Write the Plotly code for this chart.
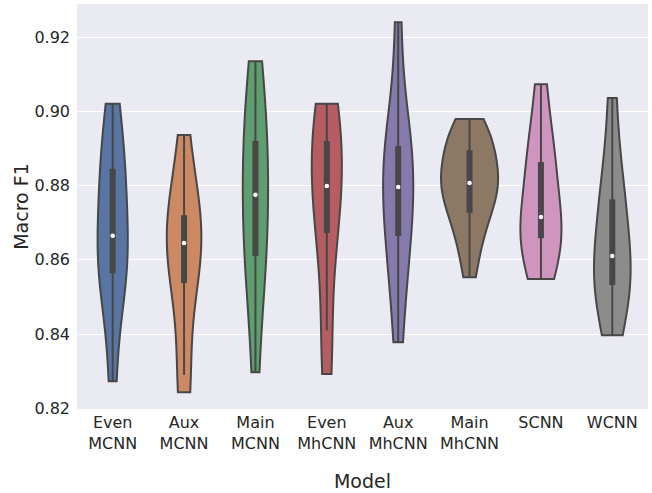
import numpy as np
import colorsys
import plotly.graph_objects as go

# ---- data ----
models = ["Even<br>MCNN", "Aux<br>MCNN", "Main<br>MCNN", "Even<br>MhCNN",
          "Aux<br>MhCNN", "Main<br>MhCNN", "SCNN", "WCNN"]

even_mcnn = [0.8273, 0.852, 0.856, 0.8575, 0.864, 0.869, 0.880, 0.886, 0.889, 0.902]
aux_mcnn = [0.8243, 0.829, 0.8535, 0.8545, 0.863, 0.866, 0.869, 0.873, 0.8775, 0.8936]
main_mcnn = [0.8297, 0.852, 0.860, 0.864, 0.875, 0.880, 0.890, 0.8927, 0.903, 0.9135]
even_mhcnn = [0.8292, 0.841, 0.867, 0.8678, 0.878, 0.8818, 0.889, 0.893, 0.899, 0.902]
aux_mhcnn = [0.8378, 0.855, 0.866, 0.8676, 0.876, 0.8832, 0.888, 0.8915, 0.893, 0.924]
main_mhcnn = [0.8553, 0.861, 0.866, 0.869, 0.8715, 0.8730, 0.876, 0.878, 0.8795, 0.8802,
              0.8812, 0.8825, 0.884, 0.886, 0.889, 0.891, 0.892, 0.8935, 0.895, 0.8979]
scnn = [0.8548, 0.860, 0.8652, 0.8676, 0.869, 0.874, 0.884, 0.8871, 0.893, 0.9073]
wcnn = [0.8397, 0.849, 0.853, 0.8538, 0.859, 0.863, 0.872, 0.8777, 0.884, 0.9036]

series = [even_mcnn, aux_mcnn, main_mcnn, even_mhcnn, aux_mhcnn, main_mhcnn, scnn, wcnn]

y_ticks = [0.82, 0.84, 0.86, 0.88, 0.90, 0.92]

# ---- styles ----
deep = ["#4C72B0", "#DD8452", "#55A868", "#C44E52", "#8172B3", "#937860", "#DA8BC3", "#8C8C8C"]
GRAY = "#474747"


def desaturate(hexc, prop=0.75):
    r, g, b = (int(hexc[i:i + 2], 16) / 255 for i in (1, 3, 5))
    h, l, s = colorsys.rgb_to_hls(r, g, b)
    r, g, b = colorsys.hls_to_rgb(h, l, s * prop)
    return "#%02x%02x%02x" % (round(r * 255), round(g * 255), round(b * 255))


colors = [desaturate(c) for c in deep]

# KDE (scott bandwidth, like seaborn) to scale widths by area
bws, peaks = [], []
for vals in series:
    v = np.asarray(vals)
    n = len(v)
    bw = v.std(ddof=1) * n ** (-0.2)
    grid = np.linspace(v.min(), v.max(), 400)
    dens = np.exp(-0.5 * ((grid[:, None] - v[None, :]) / bw) ** 2).sum(1) / (n * bw * np.sqrt(2 * np.pi))
    bws.append(bw)
    peaks.append(dens.max())
peaks = np.array(peaks)
widths = 0.8 * peaks / peaks.max()

fig = go.Figure()
for i, vals in enumerate(series):
    v = np.asarray(vals)
    fig.add_trace(go.Violin(
        x=[i] * len(v), y=v, width=widths[i], scalemode="width",
        spanmode="hard", bandwidth=bws[i], points=False,
        fillcolor=colors[i], opacity=1, line=dict(color=GRAY, width=2),
        box_visible=False, meanline_visible=False, hoverinfo="skip",
        name=models[i].replace("<br>", " ")))
    q1, med, q3 = np.percentile(v, [25, 50, 75])
    iqr = q3 - q1
    lo = v[v >= q1 - 1.5 * iqr].min()
    hi = v[v <= q3 + 1.5 * iqr].max()
    fig.add_trace(go.Scatter(x=[i, i], y=[lo, hi], mode="lines",
                             line=dict(color=GRAY, width=2), hoverinfo="skip"))
    fig.add_trace(go.Scatter(x=[i, i], y=[q1, q3], mode="lines",
                             line=dict(color=GRAY, width=6), hoverinfo="skip"))
    fig.add_trace(go.Scatter(x=[i], y=[med], mode="markers",
                             marker=dict(color="white", size=4.5, line=dict(width=0)),
                             hoverinfo="skip"))

fig.update_layout(
    width=652, height=493,
    margin=dict(l=77, r=4, t=4, b=84, autoexpand=False),
    plot_bgcolor="#EAEAF2", paper_bgcolor="white",
    showlegend=False, violinmode="overlay",
    font=dict(family="DejaVu Sans", size=16, color="#262626"),
)
fig.update_xaxes(
    range=[-0.5, 7.5], tickvals=list(range(len(models))), ticktext=models,
    showgrid=False, zeroline=False, ticks="", showline=False, automargin=True,
    ticklabelstandoff=2,
    title=dict(text="Model", standoff=22),
)
fig.update_yaxes(
    range=[0.8198, 0.9289], tickvals=y_ticks, ticktext=["%.2f" % t for t in y_ticks],
    showgrid=True, gridcolor="white", gridwidth=1.3, zeroline=False, ticks="",
    showline=False, ticklabelstandoff=6, automargin=True,
    title=dict(text="Macro F1", standoff=0),
)

fig.write_html("out.html", config={"displayModeBar": False},
               post_script="document.body.style.margin='0';")
